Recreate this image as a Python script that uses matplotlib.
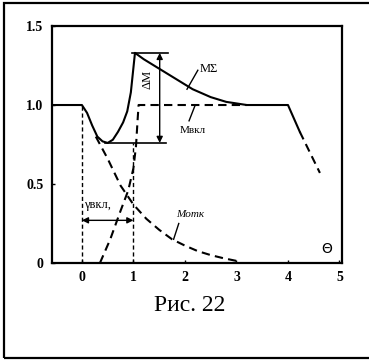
import matplotlib
matplotlib.use("Agg")
import matplotlib.pyplot as plt
from matplotlib.patches import Rectangle

# ================== DATA ==================
# M_sum (solid)
msum_x = [-0.6, 0.0, 0.1, 0.2, 0.3, 0.4, 0.5, 0.6, 0.7, 0.8, 0.88, 0.95, 1.03,
          1.2, 1.5, 1.85, 2.15, 2.5, 2.8, 3.2, 4.0, 4.23]
msum_y = [1.0, 1.0, 0.95, 0.87, 0.80, 0.77, 0.76, 0.78, 0.83, 0.89, 0.96, 1.08, 1.33,
          1.29, 1.23, 1.16, 1.10, 1.05, 1.02, 1.0, 1.0, 0.83]
# continuation after x=4 (dashed)
mtail_x = [4.23, 4.62]
mtail_y = [0.83, 0.57]

# M_vkl (dashed, switching-in)
mvkl_x = [0.35, 0.55, 0.75, 0.9, 1.0, 1.05, 1.08, 1.1, 3.2]
mvkl_y = [0.0, 0.15, 0.33, 0.46, 0.60, 0.74, 0.9, 1.0, 1.0]

# M_otk (dashed, switching-off)
motk_x = [0.27, 0.5, 0.75, 1.0, 1.25, 1.5, 1.75, 2.0, 2.25, 2.5, 2.75, 3.05]
motk_y = [0.80, 0.66, 0.49, 0.37, 0.28, 0.21, 0.15, 0.11, 0.075, 0.05, 0.03, 0.01]

x_ticks = [0, 1, 2, 3, 4, 5]
y_ticks = [0, 0.5, 1.0, 1.5]
y_tick_labels = ["0", "0.5", "1.0", "1.5"]

M_MIN = 0.76
M_MAX = 1.33

SERIF = "Liberation Serif"

fig = plt.figure(figsize=(3.69, 3.64), dpi=100)
ax = fig.add_axes([0.141, 0.2775, 0.786, 0.651])

# outer frame around the whole figure (right edge runs off the scan)
fig.patches.append(Rectangle((0.011, 0.016), 1.05, 0.975, transform=fig.transFigure,
                             fill=False, lw=1.6, color="black"))

dash = (0, (4, 2.5))
ax.plot(msum_x, msum_y, color="black", lw=1.5, solid_joinstyle="round")
ax.plot(mtail_x, mtail_y, color="black", lw=1.5, linestyle=dash)
ax.plot(mvkl_x, mvkl_y, color="black", lw=1.5, linestyle=dash)
ax.plot(motk_x, motk_y, color="black", lw=1.5, linestyle=dash)

# thin vertical dashed guides at 0 and 1
ax.plot([0, 0], [0, 1.0], color="black", lw=1.0, linestyle=(0, (3, 2)))
ax.plot([1, 1], [0, M_MIN], color="black", lw=1.0, linestyle=(0, (3, 2)))

# delta M construction
ax.plot([0.45, 1.63], [M_MIN, M_MIN], color="black", lw=1.2)
ax.plot([0.98, 1.67], [M_MAX, M_MAX], color="black", lw=1.2)
ax.annotate("", xy=(1.51, M_MIN), xytext=(1.51, M_MAX),
            arrowprops=dict(arrowstyle="<|-|>", color="black", lw=1.0,
                            mutation_scale=9, shrinkA=0, shrinkB=0))
ax.text(1.28, 1.16, "ΔM", rotation=90, ha="center", va="center",
        family=SERIF, fontsize=9)

# gamma arrow
ax.annotate("", xy=(0, 0.27), xytext=(1, 0.27),
            arrowprops=dict(arrowstyle="<|-|>", color="black", lw=1.0,
                            mutation_scale=9, shrinkA=0, shrinkB=0))
ax.text(0.05, 0.37, "γвкл,", ha="left", va="center", family=SERIF, fontsize=9)

# labels with leaders
ax.plot([2.04, 2.25], [1.10, 1.22], color="black", lw=1.0)
ax.text(2.28, 1.23, "MΣ", ha="left", va="center", family=SERIF, fontsize=9)
ax.plot([2.2, 2.08], [1.0, 0.9], color="black", lw=1.0)
ax.text(1.9, 0.84, "Mвкл", ha="left", va="center", family=SERIF, fontsize=8)
ax.plot([1.78, 1.88], [0.15, 0.25], color="black", lw=1.0)
ax.text(1.82, 0.31, "Mотк", ha="left", va="center", family=SERIF, fontsize=8,
        style="italic")
ax.text(4.76, 0.09, "Θ", ha="center", va="center", family="DejaVu Sans", fontsize=10)

ax.set_xlim(-0.58, 5.05)
ax.set_ylim(0, 1.5)
ax.set_xticks(x_ticks)
ax.set_yticks(y_ticks)
ax.set_yticklabels(y_tick_labels)
ax.tick_params(direction="in", length=2, width=1, pad=6)
for lab in ax.get_xticklabels() + ax.get_yticklabels():
    lab.set_family(SERIF)
    lab.set_fontweight("bold")
    lab.set_fontsize(10)
for s in ax.spines.values():
    s.set_linewidth(1.6)

fig.text(0.515, 0.16, "Рис. 22", ha="center", va="center", family=SERIF, fontsize=17)

fig.savefig("out.png", dpi=100)
